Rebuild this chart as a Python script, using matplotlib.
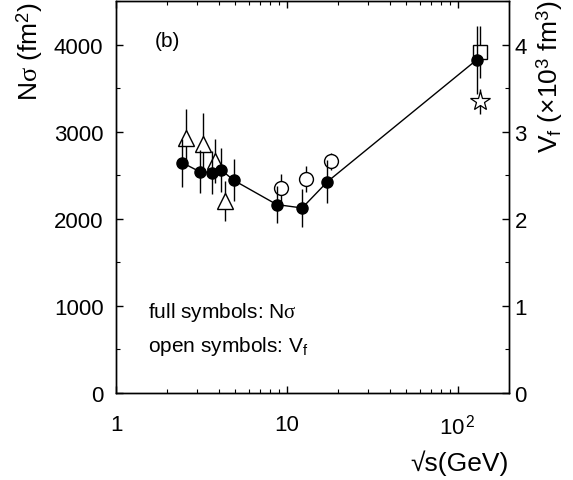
import numpy as np
import matplotlib
matplotlib.use('Agg')
import matplotlib.pyplot as plt
from matplotlib.ticker import FixedLocator, FixedFormatter, MultipleLocator, LogLocator, NullFormatter

plt.rcParams['font.family'] = ['Liberation Sans', 'DejaVu Sans']
plt.rcParams['mathtext.fontset'] = 'custom'
plt.rcParams['mathtext.rm'] = 'Liberation Sans'
plt.rcParams['mathtext.it'] = 'Liberation Serif'
plt.rcParams['mathtext.bf'] = 'Liberation Sans:bold'

# full symbols: N*sigma (fm^2)
full_x = [2.44, 3.09, 3.63, 4.13, 4.90, 8.74, 12.3, 17.3, 130]
full_y = [2644, 2541, 2530, 2560, 2441, 2163, 2124, 2426, 3828]
full_err = [275, 250, 245, 250, 240, 215, 215, 245, 390]

# open symbols: V_f (x10^3 fm^3), drawn on the same scale (1 = 1000)
tri_x = [2.56, 3.24, 3.81, 4.34]
tri_y = [2931, 2862, 2662, 2204]
tri_err = [325, 355, 257, 230]

circ_x = [9.22, 12.97, 18.2]
circ_y = [2350, 2453, 2659]
circ_err = [160, 150, 100]

sq_x = [134.5]
sq_y = [3916]
sq_err = [300]

star_x = [135.8]
star_y = [3350]
star_err = [145]

xtick_vals = [1, 10, 100]
xtick_labels = ['1', '10', r'10$^{\,2}$']

fig = plt.figure(figsize=(5.73, 4.81), dpi=100)
ax = fig.add_axes([116/573, 1-394/481, (509-116)/573, (394-2)/481])

ebkw = dict(ecolor='black', elinewidth=1.0, capsize=0, linestyle='none')

ax.errorbar(tri_x, tri_y, yerr=tri_err, marker='^', ms=12, mfc='white',
            mec='black', mew=1.0, zorder=2, **ebkw)
ax.errorbar(circ_x, circ_y, yerr=circ_err, marker='o', ms=10, mfc='white',
            mec='black', mew=1.0, zorder=2, **ebkw)
ax.errorbar(sq_x, sq_y, yerr=sq_err, marker='s', ms=10, mfc='white',
            mec='black', mew=1.0, zorder=2, **ebkw)
ax.errorbar(star_x, star_y, yerr=star_err, marker='*', ms=15, mfc='white',
            mec='black', mew=0.9, zorder=2, **ebkw)
ax.errorbar(full_x, full_y, yerr=full_err, marker='o', ms=8, mfc='black',
            mec='black', color='black', lw=1.0, ecolor='black',
            elinewidth=1.0, capsize=0, zorder=3)

ax.set_xscale('log')
ax.set_xlim(1, 200)
ax.set_ylim(0, 4500)

ax.xaxis.set_major_locator(FixedLocator(xtick_vals))
ax.xaxis.set_major_formatter(FixedFormatter(xtick_labels))
ax.xaxis.set_minor_locator(LogLocator(base=10, subs=np.arange(2, 10), numticks=20))
ax.xaxis.set_minor_formatter(NullFormatter())
ax.yaxis.set_major_locator(MultipleLocator(1000))
ax.yaxis.set_minor_locator(MultipleLocator(500))

ax.tick_params(which='both', direction='in', top=True, right=False, labelsize=16)
ax.tick_params(which='major', length=5, width=1)
ax.tick_params(which='minor', length=3, width=0.8)
ax.tick_params(axis='x', pad=15)
ax.tick_params(axis='y', pad=9)

ax2 = ax.twinx()
ax2.set_ylim(0, 4.5)
ax2.yaxis.set_major_locator(MultipleLocator(1))
ax2.yaxis.set_minor_locator(MultipleLocator(0.5))
ax2.tick_params(which='both', direction='in', labelsize=16, pad=4)
ax2.tick_params(which='major', length=5, width=1)
ax2.tick_params(which='minor', length=3, width=0.8)

for a in (ax, ax2):
    for s in a.spines.values():
        s.set_linewidth(1.0)

fig.text(30/573, 1-2/481, r'N$\sigma$ (fm$^{2}$)', rotation=90,
         ha='center', va='top', fontsize=19)
fig.text(550/573, 1-1/481, r'V$_{\mathrm{f}}$ (×10$^{3}$ fm$^{3}$)', rotation=90,
         ha='center', va='top', fontsize=19)
fig.text(509/573, 1-463/481, '√s(GeV)', ha='right', va='center', fontsize=19)

ax.text(0.132, 0.898, '(b)', transform=ax.transAxes, ha='center', va='center', fontsize=15)
ax.text(0.081, 0.207, r'full symbols: N$\sigma$', transform=ax.transAxes,
        ha='left', va='center', fontsize=15)
ax.text(0.081, 0.122, r'open symbols: V$_{\mathrm{f}}$', transform=ax.transAxes,
        ha='left', va='center', fontsize=15)

fig.savefig('out.png', dpi=100)
